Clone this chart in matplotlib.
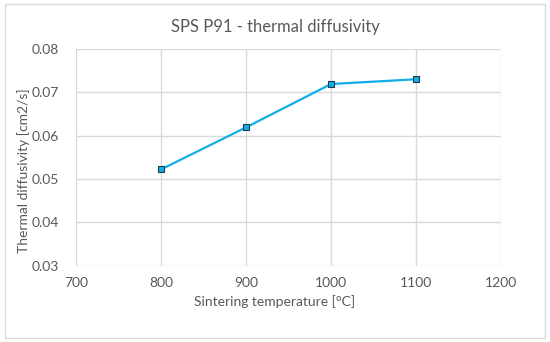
import numpy as np
import matplotlib.pyplot as plt
from matplotlib.patches import Rectangle

# data
temperature = [800, 900, 1000, 1100]
diffusivity = [0.0522, 0.0619, 0.0719, 0.0730]

x_ticks = [700, 800, 900, 1000, 1100, 1200]
y_ticks = [0.03, 0.04, 0.05, 0.06, 0.07, 0.08]

plt.rcParams['font.family'] = ['Lato', 'DejaVu Sans']
grey = '#595959'

fig = plt.figure(figsize=(5.5, 3.42), dpi=100)
ax = fig.add_axes([0.138, 0.223, 0.773, 0.634])

ax.plot(temperature, diffusivity, color='#12AEEA', lw=1.6,
        marker='s', ms=5, mfc='#12AEEA', mec='#1F3A4A', mew=0.8, zorder=3)

ax.set_xlim(700, 1200)
ax.set_ylim(0.03, 0.08)
ax.set_xticks(x_ticks)
ax.set_yticks(y_ticks)
ax.set_yticklabels(['%.2f' % v for v in y_ticks])
ax.grid(True, color='#D9D9D9', lw=1.0)
ax.set_axisbelow(True)
for s in ax.spines.values():
    s.set_visible(False)
ax.tick_params(length=0, labelsize=10, labelcolor=grey, pad=8)
ax.tick_params(axis='y', pad=12)

fig.text(0.5, 0.92, 'SPS P91 - thermal diffusivity', fontsize=12, color=grey,
         ha='center', va='center')
fig.text(0.5, 0.117, 'Sintering temperature [\u00b0C]', fontsize=10, color=grey,
         ha='center', va='center')
fig.text(0.042, 0.5, 'Thermal diffusivity [cm2/s]', fontsize=10, color=grey,
         ha='center', va='center', rotation=90)

# chart border
fig.patches.append(Rectangle((0.009, 0.012), 0.982, 0.976, transform=fig.transFigure,
                             fill=False, ec='#D9D9D9', lw=1.0))

fig.savefig('out.png', dpi=100)
